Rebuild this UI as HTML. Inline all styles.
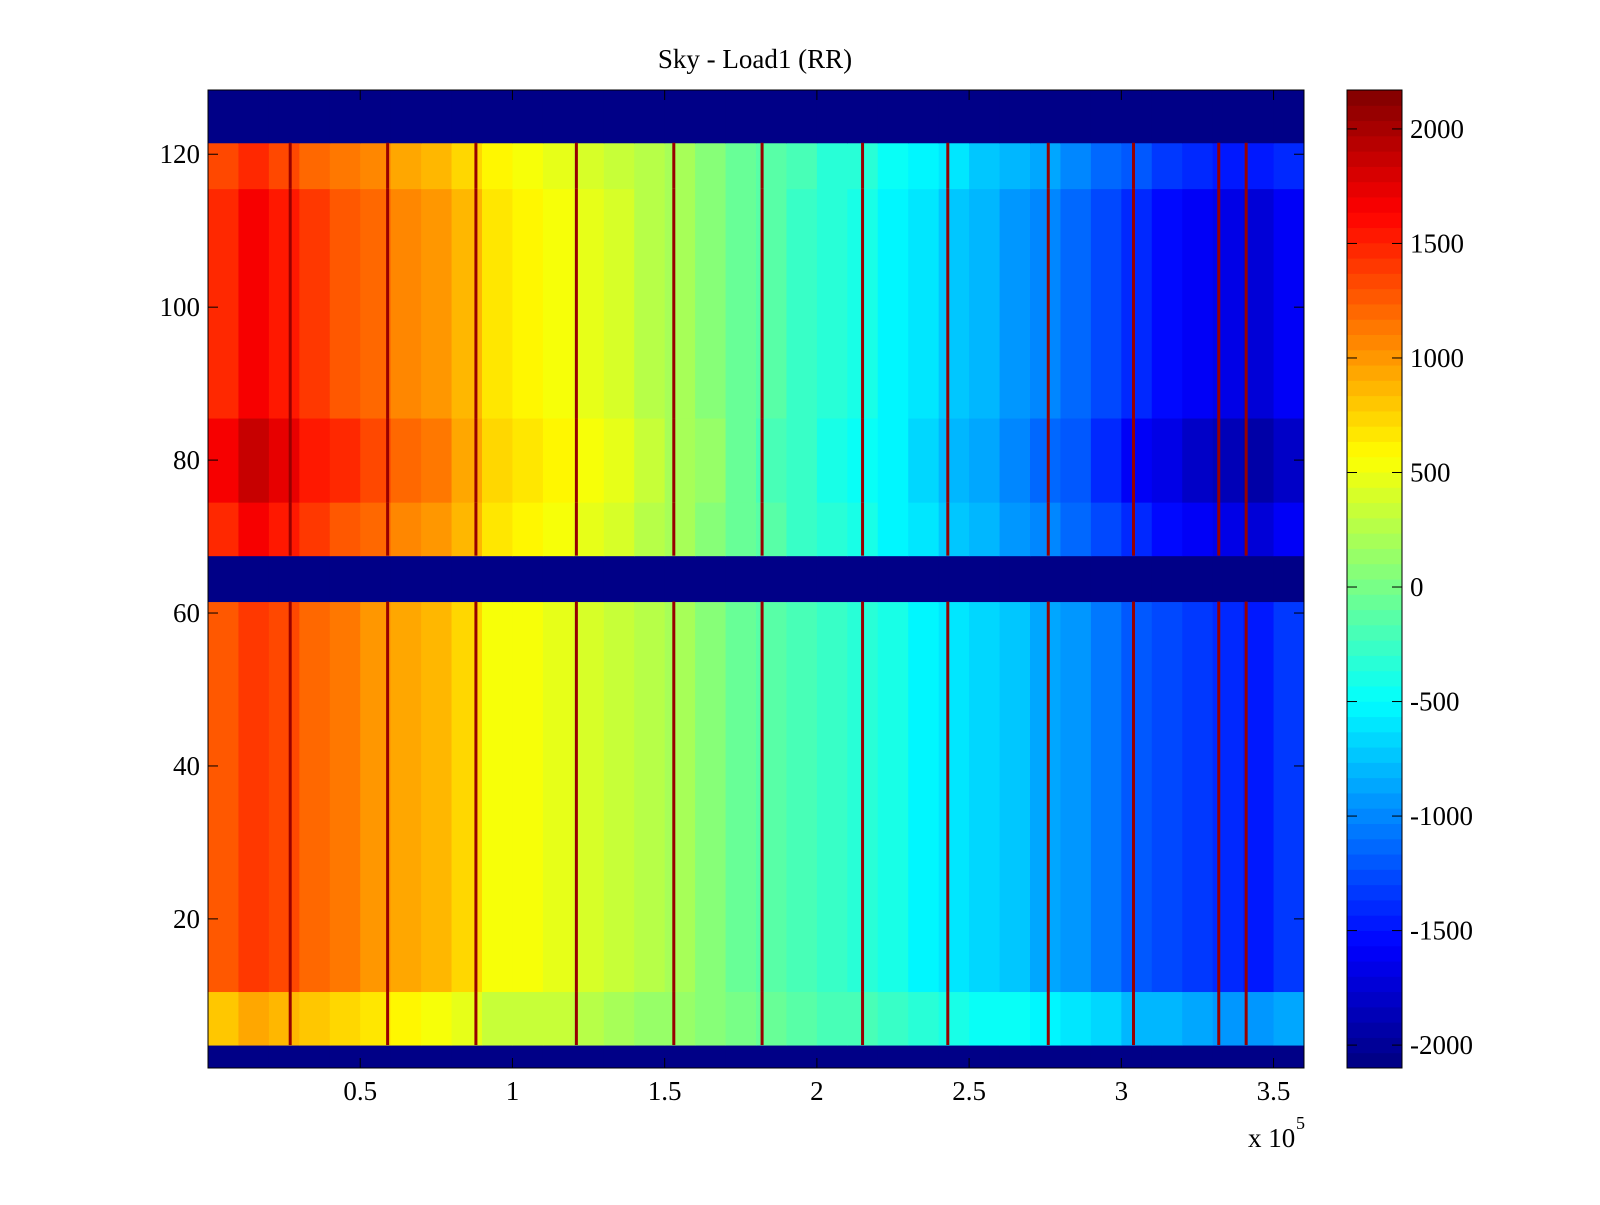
<!DOCTYPE html>
<html><head><meta charset="utf-8">
<style>
html,body{margin:0;padding:0;background:#fff;}
svg text{font-family:"Liberation Serif",serif;font-size:27px;fill:#000;}
</style></head>
<body>
<svg id="chart" width="1600" height="1200" xmlns="http://www.w3.org/2000/svg">
<rect width="1600" height="1200" fill="#fff"/>
<text x="755" y="68" text-anchor="middle">Sky - Load1 (RR)</text>
<g id="cells"></g>
<g id="stripes"></g>
<rect x="208" y="90" width="1096" height="978" fill="none" stroke="#000" stroke-width="1"/>
<g id="axes"></g>
<g id="cbar"></g>
<text x="1248" y="1147">x 10</text>
<text x="1296" y="1129" style="font-size:18px">5</text>
</svg>
<script>
// data
const colMeans = [1500,1650,1550,1400,1300,1200,1100,1000,850,650,600,550,450,400,300,200,100,-50,-150,-250,-350,-400,-500,-600,-700,-800,-900,-1000,-1100,-1250,-1400,-1500,-1600,-1650,-1700,-1600];
const bandStart = [1,4,11,62,68,75,86,116,122];
const bandEnd   = [3,10,61,67,74,85,115,121,128];
const bandScale = [null,0.55,0.85,null,1.0,1.12,1.0,0.88,null];
const blankValue = -2100;
const stripeX = [0.27,0.59,0.88,1.21,1.53,1.82,2.15,2.43,2.76,3.04,3.32,3.41];
const stripeValue = 2100;
const xTicks = [0.5,1,1.5,2,2.5,3,3.5];
const yTicks = [20,40,60,80,100,120];
const cTicks = [2000,1500,1000,500,0,-500,-1000,-1500,-2000];

const NS="http://www.w3.org/2000/svg";
const X0=208,X1=1304,Y0=90,Y1=1068;
const CB0=1347,CB1=1402;
const xMin=0,xMax=3.6,yMin=0.5,yMax=128.4,cMin=-2100,cMax=2170;
const xs=v=>X0+(v-xMin)/(xMax-xMin)*(X1-X0);
const ys=v=>Y1-(v-yMin)/(yMax-yMin)*(Y1-Y0);
const cs=v=>Y1-(v-cMin)/(cMax-cMin)*(Y1-Y0);

function jet(v){
  let t=(v-cMin)/(cMax-cMin); t=Math.max(0,Math.min(0.9999,t));
  t=(Math.floor(t*64)+0.5)/64;
  const f=x=>Math.round(255*Math.max(0,Math.min(1,x)));
  return `rgb(${f(1.5-Math.abs(4*t-3))},${f(1.5-Math.abs(4*t-2))},${f(1.5-Math.abs(4*t-1))})`;
}
function mk(tag,attrs,parent){const e=document.createElementNS(NS,tag);for(const k in attrs)e.setAttribute(k,attrs[k]);parent.appendChild(e);return e;}

const cells=document.getElementById('cells');
const colW=(xMax-xMin)/colMeans.length;
for(let b=0;b<bandStart.length;b++){
  for(let c=0;c<colMeans.length;c++){
    const v = bandScale[b]===null ? blankValue : colMeans[c]*bandScale[b];
    const x=xs(c*colW), x2=xs((c+1)*colW);
    const y=Math.max(Y0,ys(bandEnd[b]+0.5)), y2=Math.min(Y1,ys(bandStart[b]-0.5));
    const r=mk('rect',{x:x,y:y,width:x2-x+0.5,height:y2-y+0.5,fill:jet(v)},cells);
    
    
  }
}
const stripes=document.getElementById('stripes');
for(let b=0;b<bandStart.length;b++){
  if(bandScale[b]===null) continue;
  for(const sx of stripeX){
    const r=mk('rect',{x:xs(sx)-1.5,y:ys(bandEnd[b]+0.5),width:3,height:ys(bandStart[b]-0.5)-ys(bandEnd[b]+0.5),fill:jet(stripeValue)},stripes);
    
    
  }
}
const axes=document.getElementById('axes');
for(const t of xTicks){
  const x=xs(t);
  mk('line',{x1:x,x2:x,y1:Y1,y2:Y1-10,stroke:'#000'},axes);
  mk('line',{x1:x,x2:x,y1:Y0,y2:Y0+10,stroke:'#000'},axes);
  const tx=mk('text',{x:x,y:Y1+32,'text-anchor':'middle'},axes);
  tx.textContent=t;
  
  
}
for(const t of yTicks){
  const y=ys(t);
  mk('line',{x1:X0,x2:X0+10,y1:y,y2:y,stroke:'#000'},axes);
  mk('line',{x1:X1,x2:X1-10,y1:y,y2:y,stroke:'#000'},axes);
  const tx=mk('text',{x:X0-8,y:y+9,'text-anchor':'end'},axes);
  tx.textContent=t;
  
  
}
const cbar=document.getElementById('cbar');
for(let i=0;i<64;i++){
  const v0=cMin+i*(cMax-cMin)/64, v1=cMin+(i+1)*(cMax-cMin)/64;
  const r=mk('rect',{x:CB0,y:cs(v1),width:CB1-CB0,height:cs(v0)-cs(v1)+0.5,fill:jet((v0+v1)/2)},cbar);
  
  
}
mk('rect',{x:CB0,y:Y0,width:CB1-CB0,height:Y1-Y0,fill:'none',stroke:'#000'},cbar);
for(const t of cTicks){
  const y=cs(t);
  mk('line',{x1:CB0,x2:CB0+10,y1:y,y2:y,stroke:'#000'},cbar);
  mk('line',{x1:CB1,x2:CB1-10,y1:y,y2:y,stroke:'#000'},cbar);
  const tx=mk('text',{x:CB1+8,y:y+9},cbar);
  tx.textContent=t;
  
  
}
</script>
</body></html>
